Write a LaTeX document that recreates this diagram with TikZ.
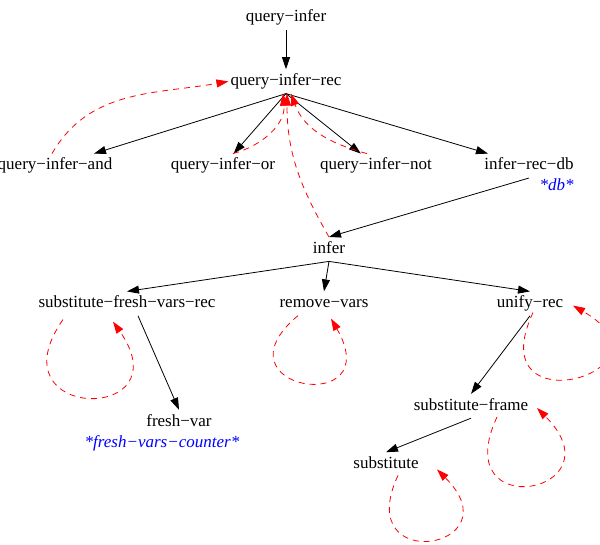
\documentclass[tikz,border=0pt]{standalone}
\usepackage{fontspec}
\setmainfont{Liberation Serif}
\usetikzlibrary{positioning,arrows.meta}

\begin{document}
\begin{tikzpicture}[
        every node/.style={font=\fontsize{17}{20}\selectfont, inner xsep=2pt, inner ysep=4pt, text height=12pt, text depth=4pt},
        glob/.style={text=blue, font=\fontsize{17}{20}\selectfont\itshape},
        call/.style={line width=0.8pt, -{Triangle[length=12pt,width=8pt]}},
        rec/.style={red, line width=0.8pt, dash pattern=on 6pt off 5pt, -{Triangle[length=12pt,width=8pt]}}
    ]

    \useasboundingbox (-286pt,18pt) rectangle (314pt,-527pt);

    % Top (entry)
    \node (qi) {query−infer};
    \node[below=39pt of qi] (qir) {query−infer−rec};

    % Query forms
    \node[below=60pt of qir, xshift=-231pt] (qiand) {query−infer−and};
    \node[below=60pt of qir, xshift=-63pt] (qior) {query−infer−or};
    \node[below=60pt of qir, xshift=90pt] (qinot) {query−infer−not};
    \node[below=60pt of qir, xshift=243pt] (irdb) {infer−rec−db};
    \node[glob, below left=-4pt and 0pt of irdb.south east] (db) {*db*};

    % Inference
    \node[below=59pt of irdb, xshift=-200pt] (infer) {infer};
    \node[below=30pt of infer, xshift=-202pt] (sfvr) {substitute−fresh−vars−rec};
    \node[below=30pt of infer, xshift=-5pt] (rv) {remove−vars};
    \node[below=30pt of infer, xshift=201pt] (ur) {unify−rec};

    % Bottom (helpers)
    \node[below=94pt of sfvr, xshift=52pt] (fv) {fresh−var};
    \node[glob, below=-3pt of fv, xshift=-17pt] (fvc) {*fresh−vars−counter*};
    \node[below=78pt of ur, xshift=-59pt] (sf) {substitute−frame};
    \node[below=34pt of sf, xshift=-85pt] (sub) {substitute};

    % Calls
    \draw[call] (qi) -- (qir);
    \draw[call] (qir.south) -- (qiand);
    \draw[call] (qir.south) -- (qior);
    \draw[call] (qir.south) -- (qinot);
    \draw[call] (qir.south) -- (irdb);
    \draw[call] (irdb.south) -- (infer.north);
    \draw[call] (infer.south) -- (sfvr.north);
    \draw[call] (infer.south) -- (rv.north);
    \draw[call] (infer.south) -- (ur.north);
    \draw[call] ([xshift=11pt]sfvr.south) -- (fv.north);
    \draw[call] (ur.south) -- (sf.north);
    \draw[call] (sf.south) -- (sub.north);

    % Recursive calls
    \draw[rec] ([xshift=-3pt]qiand.north) to[out=60,in=190] (qir.west);
    \draw[rec] ([xshift=10pt]qior.north) to[out=15,in=-85] ([xshift=-3pt]qir.south);
    \draw[rec] ([xshift=-9pt]qinot.north) to[out=165,in=-70] ([xshift=5pt]qir.south);
    \draw[rec] (infer.north) to[out=120,in=-90] ([xshift=1pt]qir.south);
    \draw[rec] ([shift={(-64pt,-16pt)}]sfvr.center) to[out=235,in=305,distance=125pt] ([shift={(-14pt,-18pt)}]sfvr.center);
    \draw[rec] ([shift={(-26pt,-12pt)}]rv.center) to[out=220,in=300,distance=115pt] ([shift={(7pt,-15pt)}]rv.center);
    \draw[rec] ([shift={(3pt,-9pt)}]ur.center) to[out=245,in=-30,distance=130pt] ([shift={(43pt,-2pt)}]ur.center);
    \draw[rec] ([shift={(26pt,-11pt)}]sf.center) to[out=245,in=-45,distance=120pt] ([shift={(66pt,-2pt)}]sf.center);
    \draw[rec] ([shift={(12pt,-11pt)}]sub.center) to[out=245,in=-45,distance=112pt] ([shift={(51pt,-5pt)}]sub.center);

\end{tikzpicture}
\end{document}
